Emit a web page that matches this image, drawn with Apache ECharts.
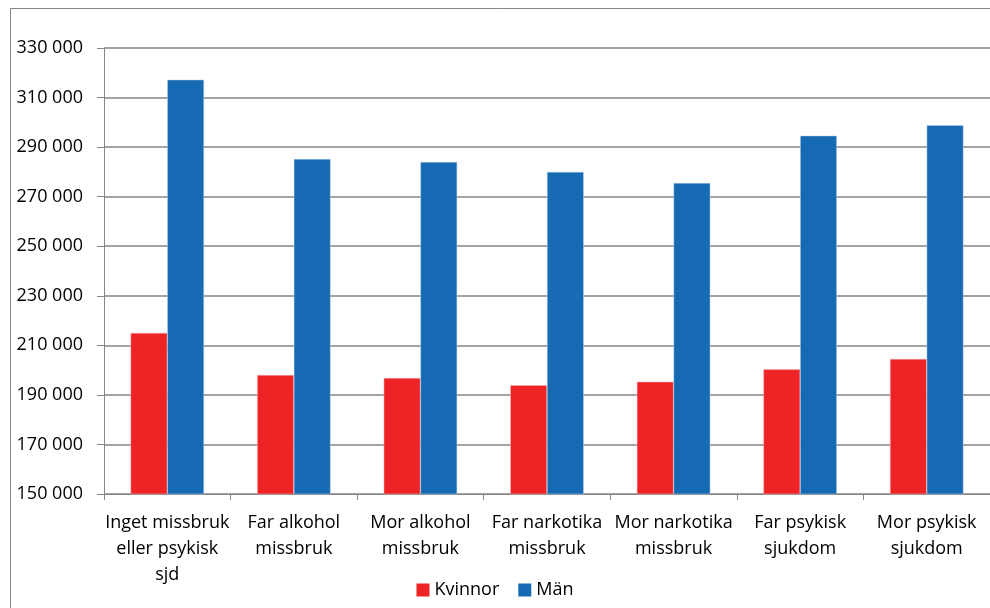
<!DOCTYPE html>
<html>
<head>
<meta charset="utf-8">
<script src="https://cdn.jsdelivr.net/npm/echarts@6/dist/echarts.min.js"></script>
<style>
  html, body { margin: 0; padding: 0; background: #fff; }
  #chart { width: 990px; height: 608px; }
</style>
</head>
<body>
<div id="chart"></div>
<script>
// kategorier och värden
const categories = [
  "Inget missbruk\neller psykisk\nsjd",
  "Far alkohol\nmissbruk",
  "Mor alkohol\nmissbruk",
  "Far narkotika\nmissbruk",
  "Mor narkotika\nmissbruk",
  "Far psykisk\nsjukdom",
  "Mor psykisk\nsjukdom"
];
const kvinnor = [215000, 198000, 196800, 193900, 195300, 200300, 204500];
const man = [317200, 285200, 284000, 280000, 275500, 294600, 298800];

const font = "'Open Sans', 'Liberation Sans', sans-serif";

let myChart = echarts.init(document.getElementById("chart"));

let option = {
  backgroundColor: "#fff",
  animation: false,
  graphic: [
    {
      // ram runt diagrammet
      type: "rect",
      shape: { x: 10.5, y: 8.5, width: 1000, height: 700 },
      style: { fill: "none", stroke: "#868686", lineWidth: 1 }
    }
  ],
  legend: {
    bottom: 4,
    left: "center",
    itemWidth: 13,
    itemHeight: 13,
    itemGap: 19,
    icon: "rect",
    itemStyle: { borderWidth: 0 },
    textStyle: { fontFamily: font, fontSize: 18, color: "#000" },
    data: ["Kvinnor", "Män"]
  },
  grid: {
    left: 104,
    right: 0,
    top: 48,
    bottom: 114,
    containLabel: false
  },
  xAxis: {
    type: "category",
    data: categories,
    axisLine: { lineStyle: { color: "#868686", width: 1 } },
    axisTick: { show: true, length: 6, lineStyle: { color: "#868686" } },
    axisLabel: {
      fontFamily: font,
      fontSize: 18,
      color: "#000",
      lineHeight: 26,
      margin: 16,
      interval: 0
    }
  },
  yAxis: {
    type: "value",
    min: 150000,
    max: 330000,
    interval: 20000,
    axisLine: { show: true, lineStyle: { color: "#868686" } },
    axisTick: { show: true, length: 7, lineStyle: { color: "#868686" } },
    splitLine: { lineStyle: { color: "#868686", width: 1.5 } },
    axisLabel: {
      fontFamily: font,
      fontSize: 18,
      color: "#000",
      margin: 21,
      formatter: function (v) {
        return String(v).replace(/\B(?=(\d{3})+(?!\d))/g, " ");
      }
    }
  },
  series: [
    {
      name: "Kvinnor",
      type: "bar",
      data: kvinnor,
      barGap: "0%",
      barCategoryGap: "42%",
      itemStyle: { color: "#EE2326", borderColor: "#f7b5b5", borderWidth: 0.5 }
    },
    {
      name: "Män",
      type: "bar",
      data: man,
      itemStyle: { color: "#1669B3", borderColor: "#b9d0e8", borderWidth: 0.5 }
    }
  ]
};

myChart.setOption(option);
</script>
</body>
</html>
